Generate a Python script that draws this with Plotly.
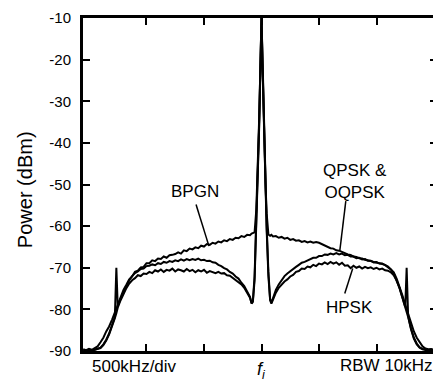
import plotly.graph_objects as go

# Frequency offset from carrier f_i, in MHz (500 kHz per division)
freq = [
    -1.550, -1.525, -1.500, -1.475, -1.450, -1.425, -1.400, -1.375, -1.350, -1.325,
    -1.300, -1.275, -1.262, -1.250, -1.225, -1.200, -1.175, -1.150, -1.125, -1.100,
    -1.075, -1.050, -1.025, -1.000, -0.975, -0.950, -0.925, -0.900, -0.875, -0.850,
    -0.825, -0.800, -0.775, -0.750, -0.725, -0.700, -0.675, -0.650, -0.625, -0.600,
    -0.575, -0.550, -0.525, -0.500, -0.475, -0.450, -0.425, -0.400, -0.375, -0.350,
    -0.325, -0.300, -0.275, -0.250, -0.225, -0.200, -0.175, -0.150, -0.125, -0.100,
    -0.086, -0.075, -0.060, -0.045, -0.035, -0.020, -0.010, 0.000,
    0.010, 0.020, 0.035, 0.045, 0.060, 0.075, 0.086,
    0.100, 0.125, 0.150, 0.175, 0.200, 0.225, 0.250, 0.275, 0.300, 0.325,
    0.350, 0.375, 0.400, 0.425, 0.450, 0.475, 0.500, 0.525, 0.550, 0.575,
    0.600, 0.625, 0.650, 0.675, 0.700, 0.725, 0.750, 0.775, 0.800, 0.825,
    0.850, 0.875, 0.900, 0.925, 0.950, 0.975, 1.000, 1.025, 1.050, 1.075,
    1.100, 1.125, 1.150, 1.175, 1.200, 1.225, 1.250, 1.262, 1.275, 1.300,
    1.325, 1.350, 1.375, 1.400, 1.425, 1.450, 1.475, 1.500, 1.525,
]

bpgn = [
    -89.6, -89.8, -89.5, -89.7, -89.3, -88.9, -87.9, -86.8, -85.3, -84.1,
    -82.5, -80.9, -80.1, -79.0, -77.1, -75.3, -74.1, -72.8, -72.1, -71.0,
    -70.7, -69.9, -69.8, -68.9, -68.9, -68.2, -68.4, -67.8, -67.9, -67.3,
    -67.6, -67.0, -66.9, -66.7, -66.3, -66.6, -65.8, -66.0, -65.4, -65.6,
    -65.1, -65.3, -64.7, -64.9, -64.3, -64.5, -64.0, -64.2, -63.7, -63.9,
    -63.4, -63.6, -63.1, -63.3, -62.8, -62.9, -62.4, -62.6, -62.1, -62.2,
    -61.8, -61.6, -61.5, -56.0, -48.0, -34.0, -22.0, -10.0,
    -23.0, -36.0, -50.0, -57.0, -62.0, -62.3, -62.1,
    -62.5, -62.4, -62.8, -62.6, -63.0, -62.8, -63.3, -63.1, -63.5, -63.4,
    -63.8, -63.6, -63.9, -63.7, -64.0, -63.8, -64.0, -64.3, -64.7, -64.9,
    -65.3, -65.4, -65.8, -65.9, -66.3, -66.5, -66.8, -66.9, -67.3, -67.4,
    -67.7, -67.8, -68.1, -68.2, -68.4, -68.6, -68.7, -68.9, -69.1, -69.3,
    -69.7, -70.3, -71.1, -72.6, -74.4, -76.6, -78.9, -80.0, -81.1, -83.4,
    -85.3, -86.8, -88.0, -88.9, -89.4, -89.6, -89.5, -89.7, -89.6,
]

qpsk = [
    -89.8, -89.9, -89.7, -89.8, -89.7, -89.5, -89.2, -88.4, -87.3, -85.8,
    -84.0, -81.8, -70.0, -79.2, -77.4, -75.8, -74.2, -73.0, -72.0, -71.3,
    -70.9, -70.3, -70.2, -69.6, -69.5, -69.2, -69.4, -68.9, -69.1, -68.6,
    -68.8, -68.4, -68.6, -68.2, -68.4, -68.0, -68.3, -67.9, -68.2, -67.9,
    -68.1, -67.8, -68.2, -68.1, -68.4, -68.3, -68.7, -68.8, -69.3, -69.6,
    -70.1, -70.4, -71.0, -71.4, -72.1, -72.6, -73.6, -74.4, -75.7, -77.0,
    -78.5, -78.0, -72.0, -60.0, -50.0, -35.0, -22.0, -10.0,
    -21.0, -33.0, -48.0, -60.0, -71.0, -77.5, -78.4,
    -77.2, -75.3, -74.0, -72.9, -72.0, -71.4, -70.8, -70.2, -69.8, -69.3,
    -68.8, -68.6, -68.2, -68.0, -67.6, -67.6, -67.2, -67.2, -66.8, -66.9,
    -66.6, -66.8, -66.5, -66.8, -66.6, -67.0, -66.9, -67.3, -67.3, -67.7,
    -67.6, -68.0, -67.9, -68.3, -68.3, -68.7, -68.6, -69.0, -69.0, -69.4,
    -69.8, -70.4, -71.4, -72.9, -74.8, -77.1, -79.4, -70.0, -81.6, -84.6,
    -86.8, -88.2, -89.1, -89.5, -89.7, -89.8, -89.7, -89.8, -89.7,
]

hpsk = [
    -89.9, -89.8, -89.8, -89.9, -89.7, -89.6, -89.3, -88.6, -87.5, -86.0,
    -84.2, -82.1, -80.9, -79.6, -77.8, -76.3, -74.9, -73.8, -73.0, -72.5,
    -71.8, -72.0, -71.4, -71.5, -71.0, -71.3, -70.6, -70.9, -70.4, -71.0,
    -70.5, -70.7, -70.2, -70.9, -70.4, -70.6, -70.9, -70.3, -70.8, -70.5,
    -71.1, -70.6, -70.9, -70.5, -71.2, -70.8, -71.0, -71.3, -71.0, -71.4,
    -71.3, -71.8, -71.9, -72.4, -72.8, -73.3, -74.0, -74.8, -75.9, -77.2,
    -78.6, -78.2, -73.0, -61.0, -51.0, -36.0, -23.0, -10.0,
    -22.0, -34.0, -49.0, -61.0, -72.0, -77.8, -78.6,
    -77.6, -76.0, -74.8, -74.0, -73.3, -72.8, -72.1, -71.7, -71.0, -70.8,
    -70.2, -70.3, -69.7, -69.9, -69.3, -69.6, -69.0, -69.2, -68.7, -69.1,
    -68.6, -69.0, -68.7, -69.3, -68.8, -69.5, -69.4, -70.1, -69.5, -70.0,
    -69.7, -70.2, -69.8, -70.1, -69.9, -70.3, -70.0, -70.4, -70.2, -70.6,
    -70.7, -71.1, -71.8, -73.1, -74.9, -77.2, -79.5, -80.5, -81.8, -84.8,
    -87.0, -88.4, -89.2, -89.6, -89.8, -89.9, -89.8, -89.9, -89.8,
]

x_ticks = [-1.0, -0.5, 0.0, 0.5, 1.0]
y_ticks = [-10, -20, -30, -40, -50, -60, -70, -80, -90]
y_ticktext = ["-10", "-20", "-30", "-40", "-50", "-60", "-70", "-80", "-90"]

FONT = "Liberation Sans, Arial, Helvetica, sans-serif"

fig = go.Figure()
for name, vals in [("HPSK", hpsk), ("QPSK & OQPSK", qpsk), ("BPGN", bpgn)]:
    fig.add_trace(go.Scatter(x=freq, y=vals, mode="lines", name=name,
                             line=dict(color="black", width=2)))

axis_common = dict(showgrid=False, zeroline=False, showline=True, linecolor="black",
                   linewidth=3, mirror="ticks", ticks="inside", ticklen=7,
                   tickwidth=2, tickcolor="black")

fig.update_xaxes(range=[-1.552, 1.526], tickvals=x_ticks, showticklabels=False,
                 **axis_common)
fig.update_yaxes(range=[-90, -10], tickvals=y_ticks, ticktext=y_ticktext,
                 tickfont=dict(family=FONT, size=15, color="black"),
                 ticklabelstandoff=6, ticklabeloverflow="allow", **axis_common)

ann_font = dict(family=FONT, size=17, color="black")
C = dict(showarrow=False, xanchor="center", yanchor="middle")
annotations = [
    dict(x=-0.578, y=-51.7, xref="x", yref="y", text="BPGN", font=ann_font, **C),
    dict(x=0.81, y=-49.3, xref="x", yref="y", text="QPSK &<br>OQPSK",
         font=ann_font, align="center", **C),
    dict(x=0.767, y=-79.5, xref="x", yref="y", text="HPSK", font=ann_font, **C),
    dict(x=0.146, y=-0.048, xref="paper", yref="paper", text="500kHz/div",
         font=ann_font, **C),
    dict(x=0.857, y=-0.045, xref="paper", yref="paper", text="RBW 10kHz",
         font=ann_font, **C),
    dict(x=0.504, y=-0.058, xref="paper", yref="paper", text="<i>f</i><sub><i>i</i></sub>",
         font=dict(family=FONT, size=18, color="black"), **C),
    dict(x=-0.162, y=0.485, xref="paper", yref="paper", text="Power (dBm)", textangle=-90,
         font=dict(family=FONT, size=20, color="black"), **C),
]

shapes = [
    dict(type="line", xref="x", yref="y", x0=-0.569, y0=-54.8, x1=-0.457, y1=-64.8,
         line=dict(color="black", width=1.5)),
    dict(type="line", xref="x", yref="y", x0=0.733, y0=-54.0, x1=0.681, y1=-65.9,
         line=dict(color="black", width=1.5)),
    dict(type="line", xref="x", yref="y", x0=0.793, y0=-70.2, x1=0.724, y1=-76.2,
         line=dict(color="black", width=1.5)),
]

# The page body adds an 8 px offset, so the figure is 8 px smaller and margins shifted.
fig.update_layout(width=433, height=374, margin=dict(l=75, r=1, t=7, b=31),
                  paper_bgcolor="white", plot_bgcolor="white", showlegend=False,
                  annotations=annotations, shapes=shapes,
                  font=dict(family=FONT, color="black"))

fig.write_html("out.html")
